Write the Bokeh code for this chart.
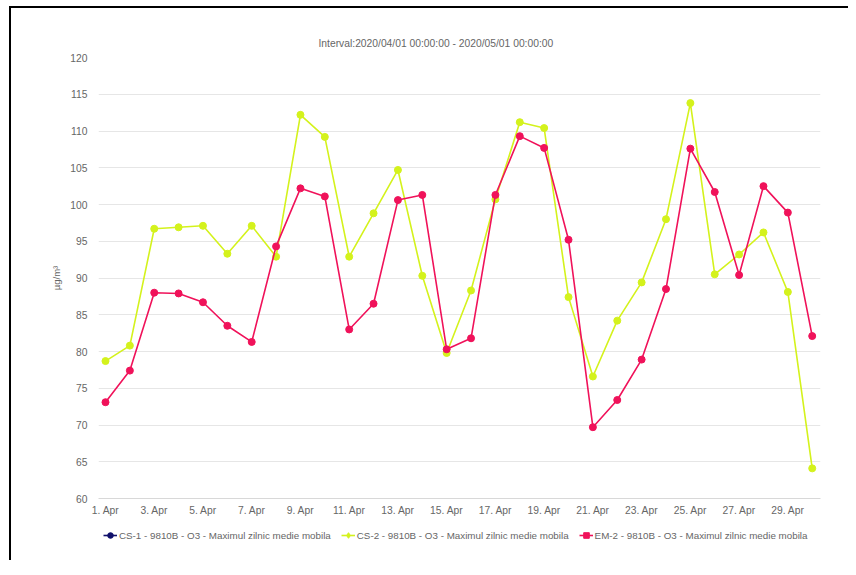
from bokeh.plotting import figure
from bokeh.layouts import column
from bokeh.models import Range1d, FixedTicker, Legend, LegendItem, ColumnDataSource
from bokeh.embed import file_html
from bokeh.resources import INLINE

# ---- data ----
days = list(range(1, 31))
tick_days = list(range(1, 30, 2))
tick_labels = [f"{d}. Apr" for d in tick_days]
y_ticks = list(range(60, 121, 5))

series_names = [
    "CS-1 - 9810B - O3 - Maximul zilnic medie mobila",
    "CS-2 - 9810B - O3 - Maximul zilnic medie mobila",
    "EM-2 - 9810B - O3 - Maximul zilnic medie mobila",
]
cs1 = []
cs2 = [78.7, 80.8, 96.7, 96.9, 97.1, 93.3, 97.1, 92.9, 112.2, 109.2,
       92.9, 98.8, 104.7, 90.3, 79.8, 88.3, 100.7, 111.2, 110.4, 87.4,
       76.6, 84.2, 89.4, 98.0, 113.8, 90.5, 93.2, 96.2, 88.1, 64.1]
em2 = [73.1, 77.4, 88.0, 87.9, 86.7, 83.5, 81.3, 94.3, 102.2, 101.1,
       83.0, 86.5, 100.6, 101.3, 80.3, 81.8, 101.3, 109.3, 107.7, 95.2,
       69.7, 73.4, 78.9, 88.5, 107.6, 101.7, 90.4, 102.5, 98.9, 82.1]

title_text = "Interval:2020/04/01 00:00:00 - 2020/05/01 00:00:00"
y_label = "µg/m³"

colors = ["#10106b", "#d4f21c", "#f0125a"]
legend_markers = ["circle", "diamond", "square"]
FONT = "Liberation Sans"
FS = "10.3px"

W = 837
p = figure(width=W, height=512, output_backend="svg", toolbar_location=None,
           x_range=Range1d(0.713, 30.34), y_range=Range1d(60, 120))
p.min_border_left = 87
p.min_border_right = 28
p.min_border_top = 49
p.min_border_bottom = 22
p.outline_line_color = None

p.title.text = title_text
p.title.align = "left"
p.title.offset = 220
p.title.standoff = 18
p.title.text_font = FONT
p.title.text_font_size = FS
p.title.text_font_style = "normal"
p.title.text_color = "#666666"

p.xaxis.ticker = FixedTicker(ticks=tick_days)
p.xaxis.major_label_overrides = {d: l for d, l in zip(tick_days, tick_labels)}
p.xaxis.major_tick_line_color = None
p.xaxis.major_tick_out = 0
p.xaxis.major_tick_in = 0
p.xaxis.minor_tick_line_color = None
p.xaxis.axis_line_color = "#d8d8d8"
p.xaxis.major_label_text_font = FONT
p.xaxis.major_label_text_font_size = FS
p.xaxis.major_label_text_color = "#666666"
p.xaxis.major_label_standoff = 6

p.yaxis.ticker = FixedTicker(ticks=y_ticks)
p.yaxis.major_tick_line_color = None
p.yaxis.minor_tick_line_color = None
p.yaxis.axis_line_color = None
p.yaxis.major_label_text_font = FONT
p.yaxis.major_label_text_font_size = FS
p.yaxis.major_label_text_color = "#666666"
p.yaxis.axis_label = y_label
p.yaxis.axis_label_text_font = FONT
p.yaxis.axis_label_text_font_size = "9.5px"
p.yaxis.axis_label_text_font_style = "normal"
p.yaxis.axis_label_text_color = "#666666"
p.yaxis.axis_label_standoff = 5

p.xgrid.grid_line_color = None
p.ygrid.grid_line_color = "#e6e6e6"

# data renderers
for vals, col in [(cs1, colors[0]), (cs2, colors[1]), (em2, colors[2])]:
    if not vals:
        continue
    src = ColumnDataSource(dict(x=days[:len(vals)], y=vals))
    p.line("x", "y", source=src, line_color=col, line_width=1.6)
    p.scatter("x", "y", source=src, marker="circle", size=7,
              fill_color=col, line_color=col)

# ---- legend strip (separate small figure; its frame is aligned with the chart's) ----
lg = figure(width=W, height=40, output_backend="svg", toolbar_location=None,
            x_range=Range1d(0, 1), y_range=Range1d(0, 1),
            x_axis_location=None, y_axis_location=None)
lg.min_border_left = 0
lg.min_border_right = 0
lg.min_border_top = 0
lg.min_border_bottom = 0
lg.outline_line_color = None
lg.xgrid.grid_line_color = None
lg.ygrid.grid_line_color = None

nan = float("nan")
items = []
for name, col, mk in zip(series_names, colors, legend_markers):
    src = ColumnDataSource(dict(x=[nan], y=[nan]))
    lr = lg.line("x", "y", source=src, line_color=col, line_width=1.6)
    sr = lg.scatter("x", "y", source=src, marker=mk, size=7,
                    fill_color=col, line_color=col)
    items.append(LegendItem(label=name, renderers=[lr, sr]))

legend = Legend(items=items, orientation="horizontal", location=(5, 17),
                glyph_width=14, glyph_height=16, label_height=16,
                label_standoff=2, spacing=10, padding=0, margin=0,
                border_line_color=None, background_fill_alpha=0,
                label_text_font=FONT, label_text_font_size="9.8px",
                label_text_color="#666666")
lg.add_layout(legend, "center")

layout = column(p, lg)
layout.margin = (6, 0, 0, 9)
layout.styles = {"border-top": "2px solid black", "border-left": "2px solid black"}

open("out.html", "w").write(file_html(layout, INLINE))
